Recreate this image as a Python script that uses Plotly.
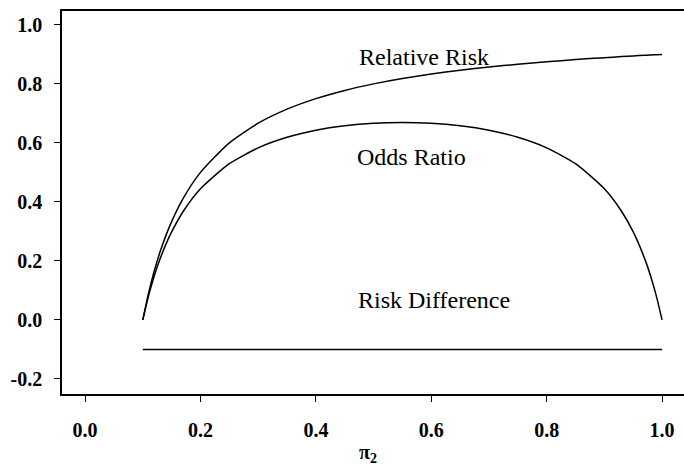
import plotly.graph_objects as go

# pi_2 grid and the three association measures
pi2 = [0.10, 0.11, 0.12, 0.13, 0.14, 0.15, 0.17, 0.20, 0.25, 0.30, 0.35, 0.40,
       0.45, 0.50, 0.55, 0.60, 0.65, 0.70, 0.75, 0.80, 0.85, 0.90, 0.93, 0.95,
       0.97, 0.98, 0.99, 1.00]
relative_risk = [0.0, 0.0909, 0.1667, 0.2308, 0.2857, 0.3333, 0.4118, 0.5, 0.6,
                 0.6667, 0.7143, 0.75, 0.7778, 0.8, 0.8182, 0.8333, 0.8462, 0.8571,
                 0.8667, 0.875, 0.8824, 0.8889, 0.8925, 0.8947, 0.8969, 0.8980,
                 0.8990, 0.9]
odds_ratio = [0.0, 0.0817, 0.1497, 0.2070, 0.2560, 0.2982, 0.3675, 0.4444, 0.5294,
              0.5833, 0.6190, 0.6429, 0.6581, 0.6667, 0.6694, 0.6667, 0.6581, 0.6429,
              0.6190, 0.5833, 0.5294, 0.4444, 0.3675, 0.2982, 0.2070, 0.1497,
              0.0817, 0.0]
rd_x = [0.10, 1.00]
risk_difference = [-0.1, -0.1]

x_ticks = [0.0, 0.2, 0.4, 0.6, 0.8, 1.0]
y_ticks = [-0.2, 0.0, 0.2, 0.4, 0.6, 0.8, 1.0]
y_range = [-0.251, 1.047]

SERIF = "Liberation Serif"
line = dict(color="black", width=1.5)

fig = go.Figure()
fig.add_trace(go.Scatter(x=pi2, y=relative_risk, mode="lines",
                         line=dict(**line, shape="spline", smoothing=0.6)))
fig.add_trace(go.Scatter(x=pi2, y=odds_ratio, mode="lines",
                         line=dict(**line, shape="spline", smoothing=0.6)))
fig.add_trace(go.Scatter(x=rd_x, y=risk_difference, mode="lines", line=line))

labels = [("Relative Risk", 0.5875, 0.892),
          ("Odds Ratio", 0.565, 0.553),
          ("Risk Difference", 0.605, 0.068)]
for text, x, y in labels:
    fig.add_annotation(x=x, y=y, text=text, showarrow=False,
                       xanchor="center", yanchor="middle",
                       font=dict(family=SERIF, size=24, color="black"))

fig.add_annotation(xref="paper", yref="paper", x=0.492, y=-0.118,
                   xanchor="center", yanchor="top",
                   text="<b>π<sub>2</sub></b>", showarrow=False,
                   font=dict(family=SERIF, size=20, color="black"))

axis_common = dict(showline=True, linecolor="black", linewidth=1.5,
                   ticks="outside", ticklen=6, tickwidth=1.2, tickcolor="black",
                   showgrid=False, zeroline=False,
                   tickfont=dict(family=SERIF, size=20, color="black", weight="bold"))

fig.update_xaxes(range=[-0.04, 1.038], tickvals=x_ticks,
                 ticktext=[f"{v:.1f}" for v in x_ticks], mirror=True,
                 ticklabelstandoff=11, **axis_common)
fig.update_yaxes(range=y_range, tickvals=y_ticks,
                 ticktext=[f"{v:.1f}" for v in y_ticks],
                 ticklabelstandoff=8, **axis_common)

fig.update_layout(width=684, height=466, showlegend=False,
                  margin=dict(l=62, r=0, t=11, b=72),
                  plot_bgcolor="white", paper_bgcolor="white",
                  font=dict(family=SERIF, color="black"))

fig.write_html("out.html")
